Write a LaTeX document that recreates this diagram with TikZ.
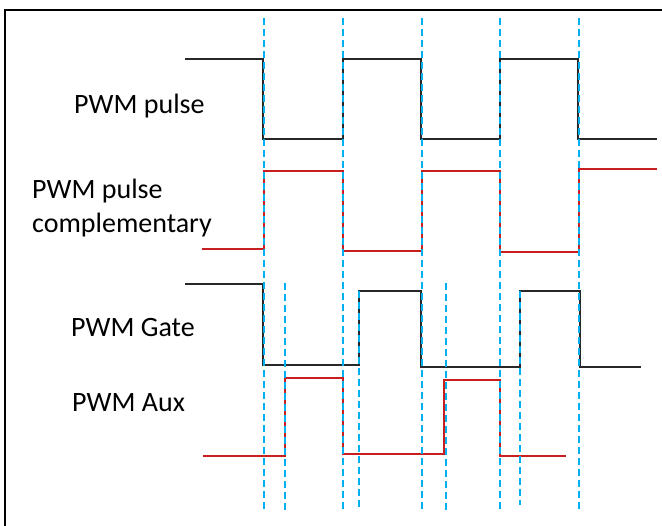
\documentclass[tikz,border=0pt]{standalone}
\usepackage{fontspec}
\setmainfont{Carlito}
\definecolor{sigblack}{RGB}{40,40,40}
\definecolor{sigred}{RGB}{200,30,30}
\definecolor{guide}{RGB}{0,176,240}
\begin{document}
\begin{tikzpicture}[x=1pt,y=-1pt,
  sigk/.style={draw=sigblack,line width=1.6pt},
  sigr/.style={draw=sigred,line width=1.6pt},
  guideline/.style={draw=guide,line width=1.5pt,dash pattern=on 7pt off 4pt},
  lbl/.style={font=\fontsize{28}{34}\selectfont,inner sep=0pt,anchor=base west,align=left}]
\useasboundingbox (0,0) rectangle (662,526);
\fill[white] (0,0) rectangle (662,526);
% frame
\draw[line width=2.5pt,black] (5,530) -- (5,10) -- (670,10);
% labels
\node[lbl] (lblpulse) at (74,114) {PWM pulse};
\node[lbl] (lblcomp) at (32,233) {PWM pulse\\complementary};
\node[lbl] (lblgate) at (71,337) {PWM Gate};
\node[lbl] (lblaux) at (72,412) {PWM Aux};
% PWM pulse
\draw[sigk] (185,59) -- (263,59) -- (263,139) -- (343,139) -- (343,59) -- (421,59) -- (421,139) -- (500,139) -- (500,59) -- (578,59) -- (578,139) -- (657,139);
% complementary
\draw[sigr] (202,249) -- (264,249) -- (264,171) -- (343,171) -- (343,251) -- (422,251) -- (422,171) -- (500,171) -- (500,252) -- (579,252) -- (579,169) -- (657,169);
% Gate
\draw[sigk] (185,284) -- (263,284) -- (263,365) -- (359,365) -- (359,291) -- (421,291) -- (421,367) -- (520,367) -- (520,291) -- (580,291) -- (580,367) -- (641,367);
% Aux
\draw[sigr] (203,456) -- (285,456) -- (285,378) -- (343,378) -- (343,454) -- (444,454) -- (444,380) -- (500,380) -- (500,456) -- (566,456);
% guides
\foreach \gx in {264,343,422,500,579} \draw[guideline] (\gx,18) -- (\gx,510);
\draw[guideline] (285,283) -- (285,510);
\draw[guideline] (446,283) -- (446,510);
\draw[guideline] (359,291) -- (359,510);
\draw[guideline] (520,291) -- (520,505);
\end{tikzpicture}
\end{document}
